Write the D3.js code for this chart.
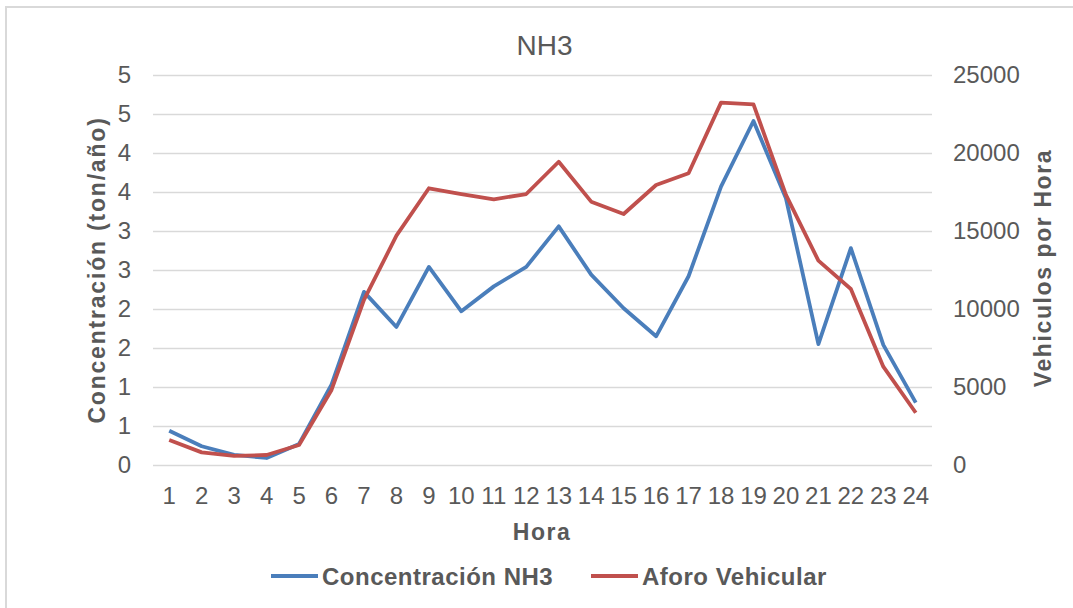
<!DOCTYPE html>
<meta charset="utf-8">
<head>
    <script src="https://d3js.org/d3.v7.min.js"></script>
    <style>
        body { margin: 0; background: #fff; }
        text { font-family: "Liberation Sans", Arial, sans-serif; fill: #595959; }
        .axis .domain { display: none; }
        .axis line { stroke: #d9d9d9; stroke-width: 1.5; }
        .tick text { font-size: 24px; }
        .bold { font-weight: bold; }
    </style>
</head>
<body>
<div id="chart"></div>

<script>
    // hours on the x axis
    const hours = d3.range(1, 25)

    // NH3 concentration (ton/año), left axis
    const nh3 = [0.44, 0.24, 0.13, 0.09, 0.27, 1.03, 2.22, 1.77, 2.54, 1.97, 2.29, 2.54,
                 3.06, 2.44, 2.01, 1.65, 2.42, 3.57, 4.41, 3.42, 1.55, 2.78, 1.54, 0.80]

    // vehicle count per hour, right axis
    const aforo = [1600, 810, 580, 640, 1280, 4810, 10580, 14700, 17740, 17370, 17030, 17370,
                   19440, 16880, 16090, 17950, 18700, 23230, 23120, 17310, 13100, 11280, 6300, 3350]

    const leftTicks = [0, 0.5, 1, 1.5, 2, 2.5, 3, 3.5, 4, 4.5, 5]
    const leftTickLabels = ["0", "1", "1", "2", "2", "3", "3", "4", "4", "5", "5"]
    const rightTicks = [0, 5000, 10000, 15000, 20000, 25000]

    const W = 1073, H = 608
    const plotLeft = 153, plotRight = 932, plotTop = 75, plotBottom = 465

    const svg = d3.select("#chart").append("svg")
        .attr("width", W)
        .attr("height", H)

    // chart border
    svg.append("rect")
        .attr("x", 6).attr("y", 7)
        .attr("width", W).attr("height", H)
        .attr("fill", "none")
        .attr("stroke", "#d9d9d9")
        .attr("stroke-width", 2)

    const x = d3.scaleBand()
        .domain(hours)
        .range([plotLeft, plotRight])

    const y = d3.scaleLinear()
        .domain([0, 5])
        .range([plotBottom, plotTop])

    const y2 = d3.scaleLinear()
        .domain([0, 25000])
        .range([plotBottom, plotTop])

    // gridlines + left labels
    svg.append("g")
        .attr("class", "axis")
        .attr("transform", `translate(${plotLeft},0)`)
        .call(d3.axisLeft(y)
            .tickValues(leftTicks)
            .tickSize(-(plotRight - plotLeft))
            .tickPadding(22)
            .tickFormat((d, i) => leftTickLabels[i]))

    // right labels
    svg.append("g")
        .attr("class", "axis")
        .attr("transform", `translate(${plotRight},0)`)
        .call(d3.axisRight(y2)
            .tickValues(rightTicks)
            .tickSize(0)
            .tickPadding(21)
            .tickFormat(d3.format("d")))

    // bottom labels
    svg.append("g")
        .attr("class", "axis")
        .attr("transform", `translate(0,${plotBottom})`)
        .call(d3.axisBottom(x).tickSize(0).tickPadding(22))
        .selectAll("line").remove()

    // lines
    const lineNh3 = d3.line()
        .x((d, i) => x(hours[i]) + x.bandwidth() / 2)
        .y(d => y(d))

    const lineAforo = d3.line()
        .x((d, i) => x(hours[i]) + x.bandwidth() / 2)
        .y(d => y2(d))

    svg.append("path")
        .datum(nh3)
        .attr("fill", "none")
        .attr("stroke", "#4A7EBB")
        .attr("stroke-width", 3.8)
        .attr("stroke-linejoin", "round")
        .attr("d", lineNh3)

    svg.append("path")
        .datum(aforo)
        .attr("fill", "none")
        .attr("stroke", "#C0504D")
        .attr("stroke-width", 3.8)
        .attr("stroke-linejoin", "round")
        .attr("d", lineAforo)

    // title
    svg.append("text")
        .attr("x", 544.5)
        .attr("y", 55)
        .attr("text-anchor", "middle")
        .style("font-size", "28px")
        .text("NH3")

    // axis titles
    svg.append("text")
        .attr("class", "bold")
        .attr("x", 542)
        .attr("y", 540)
        .attr("text-anchor", "middle")
        .style("font-size", "23px")
        .style("letter-spacing", "1.5px")
        .text("Hora")

    svg.append("text")
        .attr("class", "bold")
        .attr("transform", "translate(105,270) rotate(-90)")
        .attr("text-anchor", "middle")
        .style("font-size", "23px")
        .style("letter-spacing", "1.8px")
        .text("Concentración (ton/año)")

    svg.append("text")
        .attr("class", "bold")
        .attr("transform", "translate(1051,268) rotate(-90)")
        .attr("text-anchor", "middle")
        .style("font-size", "23px")
        .style("letter-spacing", "1.6px")
        .text("Vehiculos por Hora")

    // legend
    const legend = [
        { name: "Concentración NH3", color: "#4A7EBB", x: 271 },
        { name: "Aforo Vehicular", color: "#C0504D", x: 591 }
    ]
    legend.forEach(d => {
        svg.append("line")
            .attr("x1", d.x).attr("x2", d.x + 47)
            .attr("y1", 576).attr("y2", 576)
            .attr("stroke", d.color)
            .attr("stroke-width", 3.8)
        svg.append("text")
            .attr("class", "bold")
            .attr("x", d.x + 51)
            .attr("y", 585)
            .style("font-size", "24px")
            .style("letter-spacing", "0.5px")
            .text(d.name)
    })
</script>
</body>
